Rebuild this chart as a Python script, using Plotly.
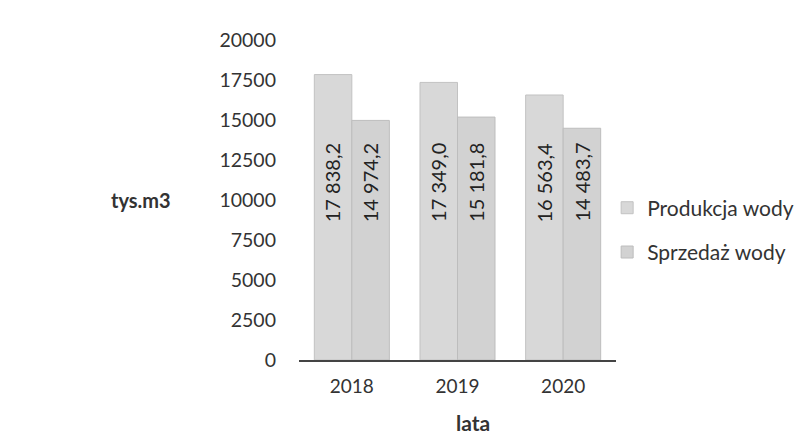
import plotly.graph_objects as go

years = ["2018", "2019", "2020"]
produkcja = [17838.2, 17349.0, 16563.4]
sprzedaz = [14974.2, 15181.8, 14483.7]
series_names = ["Produkcja wody", "Sprzedaż wody"]
y_ticks = [0, 2500, 5000, 7500, 10000, 12500, 15000, 17500, 20000]


def fmt(v):
    s = f"{v:,.1f}"
    return s.replace(",", " ").replace(".", ",")


FONT = "Lato"
fig = go.Figure()
fig.add_trace(go.Bar(x=years, y=produkcja, name=series_names[0],
                     marker=dict(color="#d8d8d8", line=dict(color="#c2c2c2", width=1)),
                     legendgroup="a"))
fig.add_trace(go.Bar(x=years, y=sprzedaz, name=series_names[1],
                     marker=dict(color="#d2d2d2", line=dict(color="#bdbdbd", width=1)),
                     legendgroup="b"))

label_y = 11100
for i, (vp, vs) in enumerate(zip(produkcja, sprzedaz)):
    for v, shift in ((vp, -19), (vs, 19)):
        fig.add_annotation(x=i, y=label_y, xref="x", yref="y", text=fmt(v),
                           textangle=-90, showarrow=False, xshift=shift,
                           font=dict(family=FONT, size=20, color="#222222"))

fig.add_annotation(text="<b>tys.m3</b>", xref="paper", yref="paper",
                   x=-0.5, y=0.5, xanchor="center", yanchor="middle", showarrow=False,
                   font=dict(family=FONT, size=20, color="#333333"))
fig.add_annotation(text="<b>lata</b>", xref="paper", yref="paper",
                   x=0.55, y=-0.194, xanchor="center", yanchor="middle", showarrow=False,
                   font=dict(family=FONT, size=21, color="#333333"))

fig.update_layout(
    width=802, height=446,
    margin=dict(l=291, r=193, t=32, b=94),
    paper_bgcolor="white", plot_bgcolor="white",
    barmode="group", bargap=0.29,
    font=dict(family=FONT, size=19, color="#333333"),
    showlegend=True,
    legend=dict(x=0.969, y=0.406, xanchor="left", yanchor="middle",
                traceorder="grouped", tracegroupgap=14,
                font=dict(family=FONT, size=21, color="#333333")),
    xaxis=dict(type="category", showline=True, linecolor="#444444", linewidth=2,
               ticks="", showgrid=False, tickfont=dict(size=19),
               ticklabelstandoff=8),
    yaxis=dict(range=[0, 20000], tickvals=y_ticks,
               ticktext=[str(t) for t in y_ticks], showgrid=False,
               zeroline=False, showline=False, ticklabelstandoff=22,
               tickfont=dict(size=19.5)),
)

fig.write_html("out.html")
